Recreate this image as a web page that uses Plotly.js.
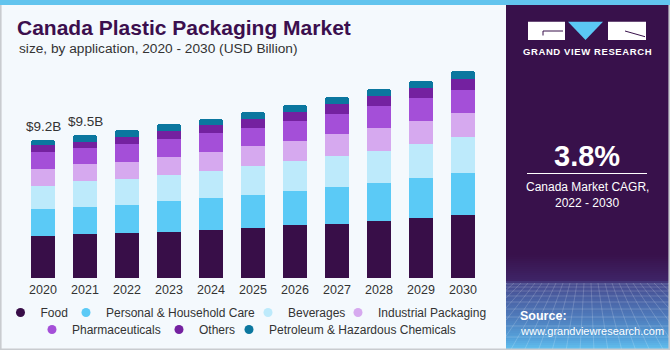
<!DOCTYPE html>
<html><head><meta charset="utf-8">
<script src="https://cdn.plot.ly/plotly-3.0.1.min.js"></script>
<style>html,body{margin:0;padding:0;background:#F4F9FD;} #chart{width:670px;height:350px;}</style>
</head><body><div id="chart"></div>
<script>
// ---- data (USD Billion) ----
const years = ['2020','2021','2022','2023','2024','2025','2026','2027','2028','2029','2030'];
const food       = [2.82,2.92,2.98,3.07,3.20,3.31,3.51,3.62,3.81,3.97,4.19];
const personal   = [1.80,1.79,1.89,2.07,2.12,2.23,2.27,2.43,2.52,2.67,2.80];
const beverages  = [1.49,1.74,1.70,1.72,1.79,1.92,1.99,2.07,2.17,2.27,2.41];
const industrial = [1.18,1.15,1.19,1.19,1.32,1.32,1.39,1.46,1.50,1.57,1.63];
const pharma     = [1.11,1.10,1.17,1.24,1.24,1.24,1.32,1.35,1.48,1.52,1.50];
const others     = [0.44,0.40,0.50,0.53,0.50,0.60,0.60,0.66,0.64,0.64,0.73];
const petroleum  = [0.38,0.44,0.44,0.44,0.44,0.48,0.46,0.48,0.48,0.50,0.55];
const seriesNames = ['Food','Personal & Household Care','Beverages','Industrial Packaging','Pharmaceuticals','Others','Petroleum & Hazardous Chemicals'];
const labelYears = ['2020','2021'];
const labelTexts = ['$9.2B','$9.5B'];

// ---- styling ----
const seriesData = [food, personal, beverages, industrial, pharma, others, petroleum];
const colors = ['#380E48','#5BCAF6','#BDEAFB','#D6A9EF','#A44FD8','#7421A0','#0B779F'];
const W = 670, H = 350, ML = 22, MR = 186, MB = 72, PLOT_TOP = 59;
const PW = W - ML - MR, PAPER_H = H - MB;          // paper area (top margin 0)
const P = x => (x - ML) / PW;
const Q = y => (H - MB - y) / PAPER_H;
const FONT = 'Liberation Sans, Arial, sans-serif';
// legend box left edge x px and row centre y px, one legend per entry
const legendPos = [[0.5,312.5],[66,312.5],[248,312.5],[338,312.5],[32,329.5],[159,329.5],[229,329.5]];

const traces = [];
seriesData.forEach((vals, i) => {
  traces.push({type:'bar', x: years, y: vals, name: seriesNames[i], marker:{color: colors[i], line:{width:0}},
    showlegend:false, legendgroup:'g'+i});
});
seriesData.forEach((vals, i) => {
  traces.push({type:'scatter', mode:'markers', x:[null], y:[null], xaxis:'x2', yaxis:'y2', name: seriesNames[i],
    marker:{color: colors[i], size:9, symbol:'circle'}, legend: i === 0 ? 'legend' : 'legend' + (i + 1), legendgroup:'g'+i, hoverinfo:'skip'});
});

const totals = years.map((_, j) => seriesData.reduce((s, a) => s + a[j], 0));

const shapes = [];
shapes.push({type:'rect', xref:'paper', yref:'paper', x0:P(0), x1:P(670), y0:Q(5), y1:Q(0), fillcolor:'#62C4EE', line:{width:0}});
shapes.push({type:'rect', xref:'paper', yref:'paper', x0:P(506), x1:P(669), y0:Q(349), y1:Q(5), fillcolor:'#38114B', line:{width:0}});
const stops = [[255,[56,17,75]],[280,[62,36,102]],[284,[71,74,142]],[300,[74,99,166]],[320,[79,128,191]],[340,[86,165,221]],[349,[98,192,238]]];
function colAt(y){
  for (let k=0;k<stops.length-1;k++){
    const a=stops[k], b=stops[k+1];
    if (y>=a[0] && y<=b[0]){ const t=(y-a[0])/(b[0]-a[0]);
      const c=a[1].map((v,m)=>Math.round(v+(b[1][m]-v)*t)); return 'rgb('+c.join(',')+')'; }
  }
  return 'rgb(98,192,238)';
}
for (let y=255; y<349; y+=2){
  shapes.push({type:'rect', xref:'paper', yref:'paper', x0:P(506), x1:P(669), y0:Q(Math.min(y+2.4,349)), y1:Q(y), fillcolor:colAt(y+1), line:{width:0}});
}
const gridLine = {color:'rgba(255,255,255,0.22)', width:0.8};
[284,287,291,296,302,309,317,326,337].forEach(y => {
  shapes.push({type:'line', xref:'paper', yref:'paper', x0:P(506), x1:P(669), y0:Q(y), y1:Q(y), line:gridLine});
});
const vpx = 588, vpy = 215, hz = 283, bot = 349;
for (let xh = 430; xh <= 746; xh += 7){
  let x1 = xh, y1 = hz;
  let x2 = vpx + (xh - vpx) * (bot - vpy) / (hz - vpy), y2 = bot;
  const X1 = x1, Y1 = y1, X2 = x2, Y2 = y2;
  const clip = (xb) => { const t = (xb - X1) / (X2 - X1); return [xb, Y1 + t*(Y2 - Y1)]; };
  if (x1 < 506 && x2 < 506) continue;
  if (x1 > 669 && x2 > 669) continue;
  if (x1 < 506) [x1, y1] = clip(506);
  if (x1 > 669) [x1, y1] = clip(669);
  if (x2 < 506) [x2, y2] = clip(506);
  if (x2 > 669) [x2, y2] = clip(669);
  shapes.push({type:'line', xref:'paper', yref:'paper', x0:P(x1), y0:Q(y1), x1:P(x2), y1:Q(y2), line:gridLine});
}
shapes.push({type:'rect', xref:'paper', yref:'paper', x0:P(528), x1:P(565), y0:Q(40), y1:Q(21.7), fillcolor:'#FFFFFF', line:{width:0}});
shapes.push({type:'rect', xref:'paper', yref:'paper', x0:P(608), x1:P(646), y0:Q(40), y1:Q(21.7), fillcolor:'#FFFFFF', line:{width:0}});
shapes.push({type:'path', xref:'paper', yref:'paper', path:'M '+P(568)+' '+Q(21.7)+' L '+P(603)+' '+Q(21.7)+' L '+P(585.5)+' '+Q(40)+' Z', fillcolor:'#5BC8F5', line:{width:0}});
shapes.push({type:'path', xref:'paper', yref:'paper', path:'M '+P(563)+' '+Q(31)+' L '+P(543)+' '+Q(31)+' L '+P(543)+' '+Q(35.5), line:{color:'#38114B', width:1}});
shapes.push({type:'line', xref:'paper', yref:'paper', x0:P(625), y0:Q(31), x1:P(645), y1:Q(36.7), line:{color:'#38114B', width:1}});
shapes.push({type:'line', xref:'paper', yref:'paper', x0:P(527), x1:P(647), y0:Q(173.5), y1:Q(173.5), line:{color:'#FFFFFF', width:1.2}});
shapes.push({type:'line', xref:'paper', yref:'paper', x0:P(0.8), x1:P(0.8), y0:Q(5), y1:Q(350), line:{color:'#C9CCD0', width:1.6}});
shapes.push({type:'line', xref:'paper', yref:'paper', x0:P(0), x1:P(670), y0:Q(349.2), y1:Q(349.2), line:{color:'#C9CCD0', width:1.6}});
shapes.push({type:'line', xref:'paper', yref:'paper', x0:P(669.2), x1:P(669.2), y0:Q(5), y1:Q(350), line:{color:'#C9CCD0', width:1.6}});

const annotations = [];
annotations.push({xref:'paper', yref:'paper', x:P(17), y:Q(48.5), xanchor:'left', yanchor:'middle', showarrow:false,
  text:'size, by application, 2020 - 2030 (USD Billion)', font:{family:FONT, size:13.7, color:'#333333'}});
labelYears.forEach((yr, k) => {
  const j = years.indexOf(yr);
  // category axis: annotation x is the category's serial index
  annotations.push({xref:'x', yref:'y', x: j, y: totals[j], yanchor:'bottom', yshift:4, showarrow:false,
    text: labelTexts[k], font:{family:FONT, size:13.5, color:'#333333'}});
});
annotations.push({xref:'paper', yref:'paper', x:P(587), y:Q(51.5), xanchor:'center', yanchor:'middle', showarrow:false,
  text:'<b><span style="letter-spacing:0.6px">GRAND VIEW RESEARCH</span></b>', font:{family:FONT, size:9.5, color:'#FFFFFF'}});
annotations.push({xref:'paper', yref:'paper', x:P(587), y:Q(155.5), xanchor:'center', yanchor:'middle', showarrow:false,
  text:'<b>3.8%</b>', font:{family:FONT, size:29, color:'#FFFFFF'}});
annotations.push({xref:'paper', yref:'paper', x:P(587), y:Q(186.5), xanchor:'center', yanchor:'middle', showarrow:false,
  text:'Canada Market CAGR,', font:{family:FONT, size:12, color:'#FFFFFF'}});
annotations.push({xref:'paper', yref:'paper', x:P(587), y:Q(202.5), xanchor:'center', yanchor:'middle', showarrow:false,
  text:'2022 - 2030', font:{family:FONT, size:12, color:'#FFFFFF'}});
annotations.push({xref:'paper', yref:'paper', x:P(518), y:Q(316), xanchor:'left', yanchor:'middle', showarrow:false,
  text:'<b>Source:</b>', font:{family:FONT, size:12.5, color:'#FFFFFF'}});
annotations.push({xref:'paper', yref:'paper', x:P(518), y:Q(330.5), xanchor:'left', yanchor:'middle', showarrow:false,
  text:'www.grandviewresearch.com', font:{family:FONT, size:11, color:'#FFFFFF'}});

const layout = {
  width: W, height: H,
  // top margin 0 keeps Plotly's default 12px legend padding at 0; plot top is set via the y-axis domain
  margin: {l: ML, r: MR, t: 0, b: MB, pad: 0},
  paper_bgcolor: '#F4F9FD', plot_bgcolor: '#F4F9FD',
  font: {family: FONT, color:'#333333'},
  title: {text:'<b>Canada Plastic Packaging Market</b>', xref:'container', yref:'container', x: 17/W, xanchor:'left',
    y: 1 - 27.7/H, yanchor:'middle', font:{family:FONT, size:21, color:'#3B0F4E'}},
  barmode: 'stack', bargap: 0.4286, barcornerradius: 3,
  xaxis: {type:'category', categoryorder:'array', categoryarray: years, range:[-0.5, 10.5], showgrid:false, zeroline:false, showline:false, ticks:'',
    ticklabelstandoff: 2, tickfont:{family:FONT, size:12.5, color:'#333333'}, fixedrange:true, automargin:false},
  yaxis: {visible:false, range:[0, 14.6], domain:[0, Q(PLOT_TOP)], fixedrange:true},
  xaxis2: {overlaying:'x', visible:false, range:[0,1], fixedrange:true},
  yaxis2: {overlaying:'y', visible:false, range:[0,1], fixedrange:true},
  shapes: shapes,
  annotations: annotations,
  hovermode: false
};
legendPos.forEach((pos, i) => {
  const key = i === 0 ? 'legend' : 'legend' + (i + 1);
  layout[key] = {orientation:'h', xanchor:'left', yanchor:'middle', x: P(pos[0]), y: Q(pos[1]),
    font:{family:FONT, size:12, color:'#333333'}, bgcolor:'rgba(0,0,0,0)', borderwidth:0,
    itemclick:false, itemdoubleclick:false};
});

Plotly.newPlot('chart', traces, layout, {displayModeBar:false, responsive:false});
</script></body></html>
